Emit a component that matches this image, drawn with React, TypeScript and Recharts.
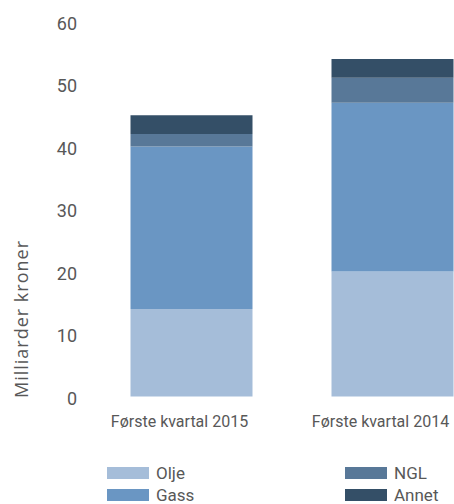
import React from "react";
import { BarChart, Bar, XAxis, YAxis, Legend, Label } from "recharts";

const categories = ["Første kvartal 2015", "Første kvartal 2014"];
const olje = [14, 20];
const gass = [26, 27];
const ngl = [2, 4];
const annet = [3, 3];
const yTicks = [0, 10, 20, 30, 40, 50, 60];

const series = [
  { key: "Olje", color: "#a5bdd9" },
  { key: "Gass", color: "#6a96c3" },
  { key: "NGL", color: "#587898" },
  { key: "Annet", color: "#344f67" },
];

const data = categories.map((name, i) => ({
  name,
  Olje: olje[i],
  Gass: gass[i],
  NGL: ngl[i],
  Annet: annet[i],
}));

const FONT = "Roboto, 'DejaVu Sans', sans-serif";
const TEXT = "#585858";

function CategoryTick({ x, y, payload }: any) {
  return (
    <text
      x={x - 11.5}
      y={y + 28.5}
      textAnchor="middle"
      fill={TEXT}
      fontSize={16}
      fontFamily={FONT}
    >
      {payload.value}
    </text>
  );
}

function LegendContent({ payload }: any) {
  // keep legend in series order (Olje, Gass | NGL, Annet)
  const items = series.map((s) => {
    const p = (payload || []).find((it: any) => it.value === s.key);
    return { value: s.key, color: p ? p.color : s.color };
  });
  return (
    <div
      style={{
        display: "grid",
        gridTemplateColumns: "238px 110px",
        gridTemplateRows: "22px 22px",
        gridAutoFlow: "column",
        paddingLeft: 107,
        fontFamily: FONT,
        fontSize: 17,
        color: TEXT,
      }}
    >
      {items.map((item) => (
        <div key={item.value} style={{ display: "flex", alignItems: "center" }}>
          <span
            style={{
              display: "inline-block",
              width: 42,
              height: 12,
              background: item.color,
              marginRight: 7,
            }}
          />
          <span style={{ lineHeight: "17px" }}>{item.value}</span>
        </div>
      ))}
    </div>
  );
}

export default function App() {
  return (
    <div
      style={{
        position: "absolute",
        left: 0,
        top: 0,
        width: 454,
        height: 504,
        overflow: "hidden",
        background: "#fff",
      }}
    >
      <BarChart
        width={493}
        height={504}
        data={data}
        margin={{ top: 21.5, right: 0.5, bottom: 77.5, left: 0.5 }}
      >
        <XAxis
          dataKey="name"
          axisLine={false}
          tickLine={false}
          tickSize={0}
          height={30}
          interval={0}
          tick={<CategoryTick />}
        />
        <YAxis
          width={90}
          domain={[0, 60]}
          ticks={yTicks}
          axisLine={false}
          tickLine={false}
          tickSize={0}
          tickMargin={13.5}
          tick={{ fill: TEXT, fontSize: 18, fontFamily: FONT, dy: 2 }}
        >
          <Label
            content={() => (
              <text
                x={28}
                y={319}
                transform="rotate(-90 28 319)"
                textAnchor="middle"
                fill={TEXT}
                fontSize={18}
                letterSpacing={1}
                fontFamily="'Open Sans', Roboto, sans-serif"
              >
                Milliarder kroner
              </text>
            )}
          />
        </YAxis>
        <Legend
          layout="horizontal"
          verticalAlign="middle"
          align="center"
          wrapperStyle={{ left: 0, top: 462, width: 454 }}
          content={<LegendContent />}
        />
        {series.map((s) => (
          <Bar
            key={s.key}
            dataKey={s.key}
            stackId="a"
            fill={s.color}
            barSize={122}
            isAnimationActive={false}
          />
        ))}
      </BarChart>
    </div>
  );
}
